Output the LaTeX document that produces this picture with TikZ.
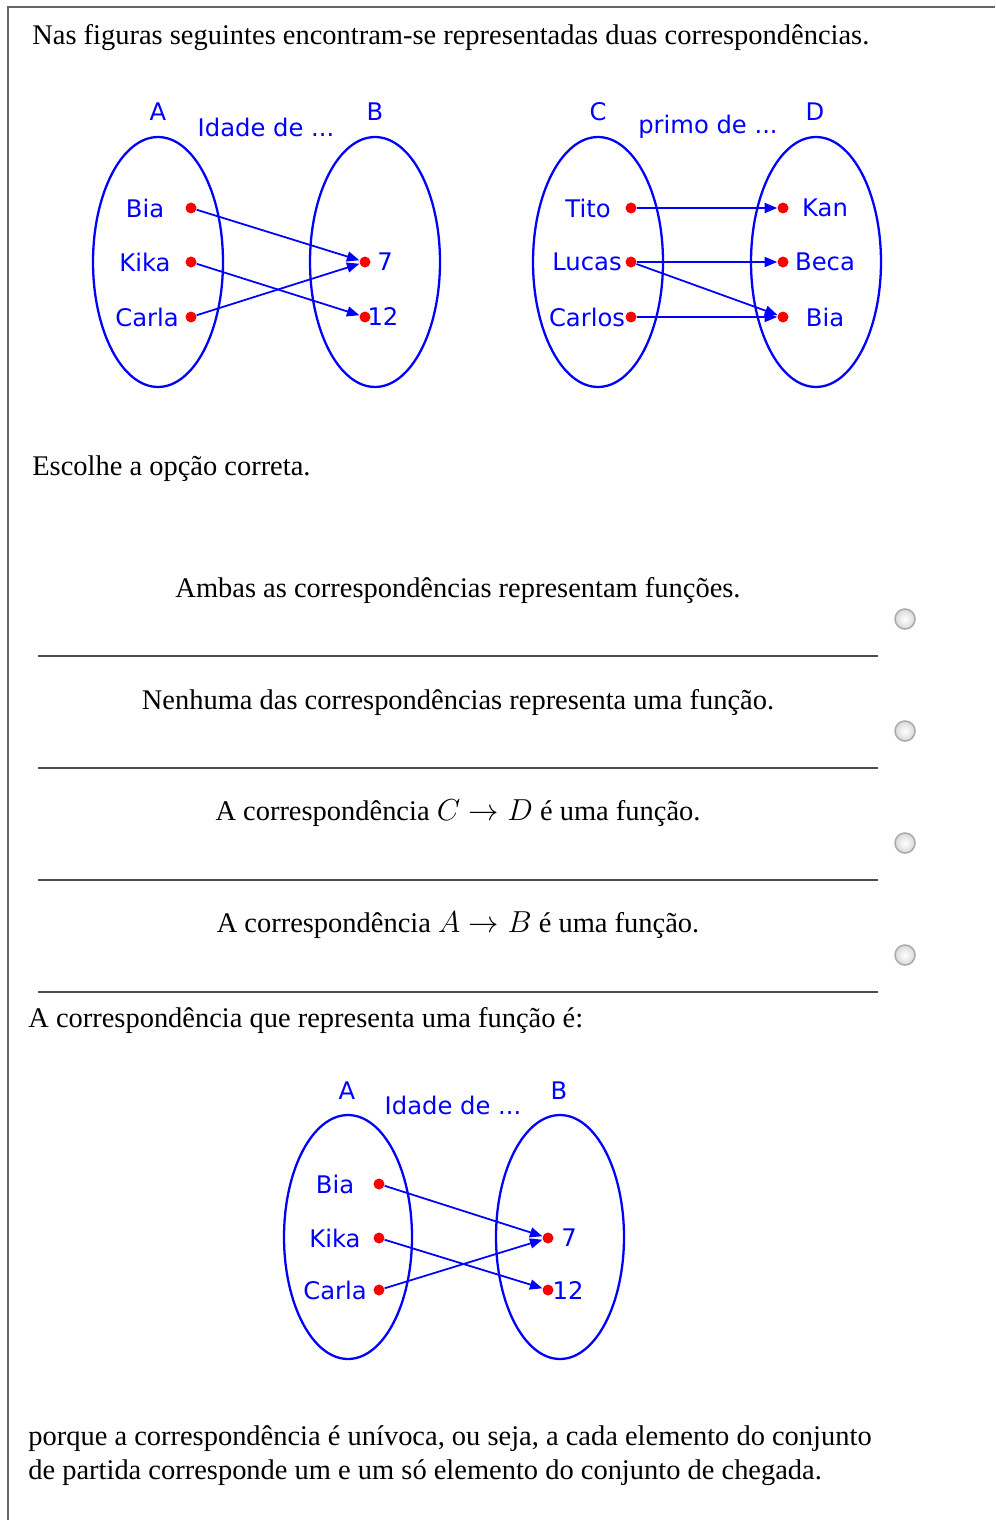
\documentclass[tikz,border=0pt]{standalone}
\usepackage{fontspec}
\setmainfont{Liberation Serif}
\setsansfont{DejaVu Sans}
\usetikzlibrary{
	shapes.geometric,
	arrows.meta,
	positioning
}

\begin{document}
\begin{tikzpicture}[x=0.02cm, y=-0.02cm,
				conj/.style={
					ellipse, draw=blue, line width=1.3pt, inner sep=0pt,
					minimum width=2.6cm, minimum height=5cm
				},
				smallconj/.style={
					conj, minimum width=2.56cm, minimum height=4.88cm
				},
				dot/.style={
					circle, fill=red, inner sep=0pt, minimum size=0.22cm
				},
				lbl/.style={
					text=blue, inner sep=0pt, font=\sffamily\fontsize{13.8}{16}\selectfont
				},
				arrow/.style={-{Triangle[length=0.25cm, width=0.2cm]}, blue, line width=1pt},
				txt/.style={
					anchor=base west, inner sep=0pt, font=\fontsize{16.2}{20}\selectfont
				},
				opttxt/.style={
					txt, anchor=base
				},
				sepline/.style={draw=black!70, line width=0.9pt},
				radio/.style={
					circle, draw=gray!65, line width=0.9pt, inner sep=0pt,
					minimum size=0.4cm, inner color=white, outer color=gray!30
				},
				]
				
				\useasboundingbox (0,0) rectangle (995,1520);
				\draw[black!60, line width=1.2pt] (8,1520) -- (8,7) -- (995,7);
				
				\node[txt] (intro) at (32,45) {Nas figuras seguintes encontram-se representadas duas correspondências.};
				
				%first set: A -> B
				\node[conj] (setA) at (158,262) {};
				\node[conj] (setB) at (375,262) {};
				\node[lbl] (nameA) at (158,112) {A};
				\node[lbl] (nameB) at (375,112) {B};
				\node[lbl, anchor=base] (relAB) at (266,137) {Idade de ...};
				
				\node[dot] (bia) at (191,208) {};
				\node[dot] (kika) at (191,262) {};
				\node[dot] (carla) at (191,317) {};
				\node[lbl] at (145,208) {Bia};
				\node[lbl] at (145,262) {Kika};
				\node[lbl] at (147,317) {Carla};
				
				\node[dot] (seven) at (365,262) {};
				\node[dot] (twelve) at (365,317) {};
				\node[lbl] at (385,262) {7};
				\node[lbl] at (383,317) {12};
				
				\draw[arrow] (bia) -- (seven);
				\draw[arrow] (kika) -- (twelve);
				\draw[arrow] (carla) -- (seven);
				
				%second set: C -> D
				\node[conj] (setC) at (598,262) {};
				\node[conj] (setD) at (816,262) {};
				\node[lbl] (nameC) at (598,112) {C};
				\node[lbl] (nameD) at (815,112) {D};
				\node[lbl, anchor=base] (relCD) at (708,134) {primo de ...};
				
				\node[dot] (tito) at (631,208) {};
				\node[dot] (lucas) at (631,262) {};
				\node[dot] (carlos) at (631,317) {};
				\node[lbl] at (588,208) {Tito};
				\node[lbl] at (587,262) {Lucas};
				\node[lbl] at (587,317) {Carlos};
				
				\node[dot] (kan) at (783,208) {};
				\node[dot] (beca) at (783,262) {};
				\node[dot] (biaD) at (783,317) {};
				\node[lbl] at (825,208) {Kan};
				\node[lbl] at (825,262) {Beca};
				\node[lbl] at (825,317) {Bia};
				
				\draw[arrow] (tito) -- (kan);
				\draw[arrow] (lucas) -- (beca);
				\draw[arrow] (lucas) -- (biaD);
				\draw[arrow] (carlos) -- (biaD);
				
				\node[txt] (ask) at (32,475) {Escolhe a opção correta.};
				
				%options
				\node[opttxt] (opt1) at (458,597) {Ambas as correspondências representam funções.};
				\draw[sepline] (38,656) -- (878,656);
				\node[radio] (radio1) at (905,619) {};
				
				\node[opttxt] (opt2) at (458,709) {Nenhuma das correspondências representa uma função.};
				\draw[sepline] (38,768) -- (878,768);
				\node[radio] (radio2) at (905,731) {};
				
				\node[opttxt] (opt3) at (458,820) {A correspondência $C \to D$ é uma função.};
				\draw[sepline] (38,880) -- (878,880);
				\node[radio] (radio3) at (905,843) {};
				
				\node[opttxt] (opt4) at (458,932) {A correspondência $A \to B$ é uma função.};
				\draw[sepline] (38,992) -- (878,992);
				\node[radio] (radio4) at (905,955) {};
				
				\node[txt] (answer) at (28,1027) {A correspondência que representa uma função é:};
				
				%answer set: A -> B again
				\node[smallconj] (solA) at (348,1237) {};
				\node[smallconj] (solB) at (560,1237) {};
				\node[lbl] at (347,1091) {A};
				\node[lbl] at (559,1091) {B};
				\node[lbl, anchor=base] at (453,1114) {Idade de ...};
				
				\node[dot] (solbia) at (379,1184) {};
				\node[dot] (solkika) at (379,1238) {};
				\node[dot] (solcarla) at (379,1290) {};
				\node[lbl] at (335,1184) {Bia};
				\node[lbl] at (335,1238) {Kika};
				\node[lbl] at (335,1290) {Carla};
				
				\node[dot] (solseven) at (548,1238) {};
				\node[dot] (soltwelve) at (548,1290) {};
				\node[lbl] at (569,1238) {7};
				\node[lbl] at (568,1290) {12};
				
				\draw[arrow] (solbia) -- (solseven);
				\draw[arrow] (solkika) -- (soltwelve);
				\draw[arrow] (solcarla) -- (solseven);
				
				\node[txt] (why1) at (28,1445) {porque a correspondência é unívoca, ou seja, a cada elemento do conjunto};
				\node[txt] (why2) at (28,1479) {de partida corresponde um e um só elemento do conjunto de chegada.};
\end{tikzpicture}
\end{document}
